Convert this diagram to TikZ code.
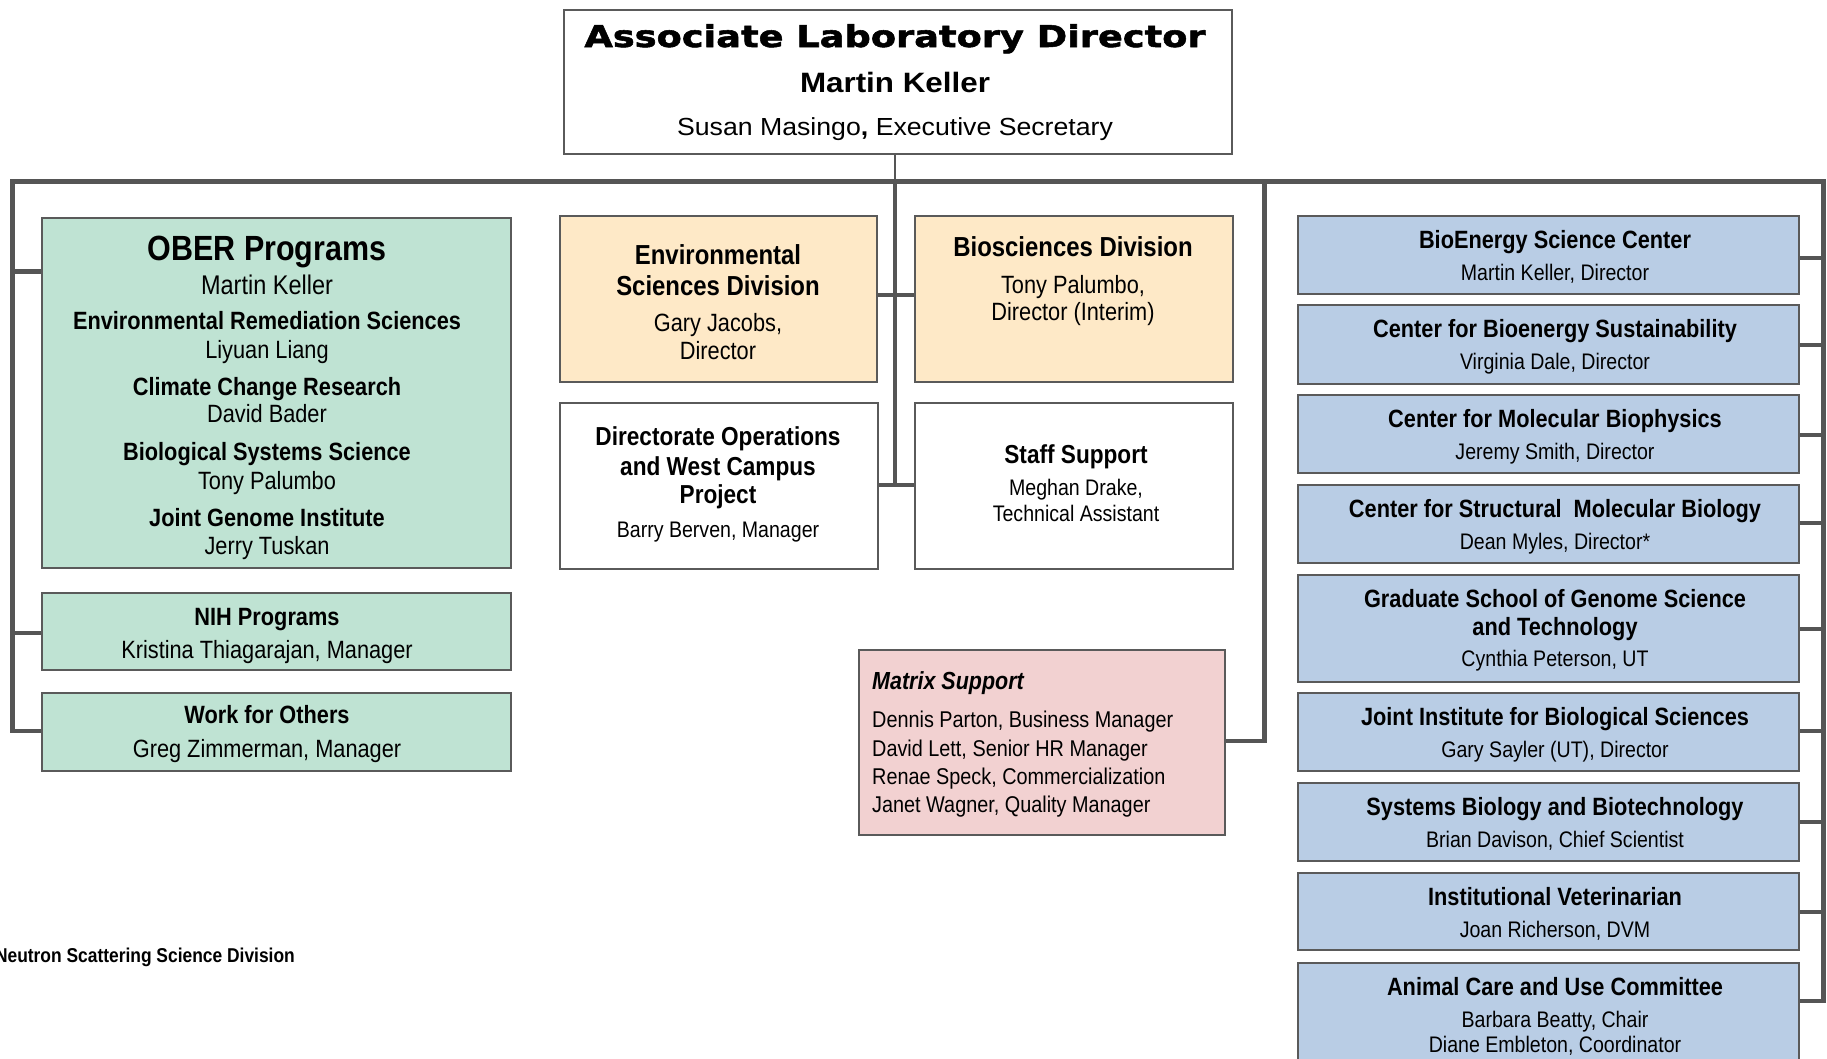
\documentclass[tikz,border=0pt]{standalone}
\usepackage{fontspec}
\setmainfont{Liberation Sans}
\newfontfamily\nar[FakeStretch=0.87]{Liberation Sans}
\newfontfamily\ttlf[FakeStretch=1.225,FakeBold=1.8]{DejaVu Sans}
\newfontfamily\mkf[FakeStretch=1.12]{Liberation Sans}
\newfontfamily\susf[FakeStretch=1.08]{Liberation Sans}
\newcommand\setsz[1]{\fontsize{#1pt}{#1pt}\selectfont}
\definecolor{grnf}{HTML}{BFE3D3}
\definecolor{orgf}{HTML}{FEE9C7}
\definecolor{bluf}{HTML}{B9CDE5}
\definecolor{pnkf}{HTML}{F2D1D1}
\definecolor{lnc}{HTML}{555555}
\definecolor{bdc}{HTML}{5A5A5A}
\begin{document}
\begin{tikzpicture}[x=1pt,y=-1pt,
  box/.style={draw=bdc, line width=2pt, inner sep=0pt, anchor=north west},
  conn/.style={draw=lnc, line width=4.7pt, line join=miter},
  lbl/.style={inner sep=0pt, anchor=base, text=black},
  hd/.style={lbl, font=\nar\bfseries\setsz{25}},
  dv/.style={lbl, font=\nar\bfseries\setsz{27.5}},
  nmg/.style={lbl, font=\nar\setsz{25}},
  nm/.style={lbl, font=\nar\setsz{22.5}},
  ml/.style={lbl, anchor=base west, font=\nar\setsz{22.8}},
]
\useasboundingbox (0,0) rectangle (1827,1058);
\fill[white] (0,0) rectangle (1827,1058);

% ---------- boxes ----------
\node[box, fill=white, minimum width=668pt, minimum height=144pt] (ald) at (563,9) {};

\node[box, fill=grnf, minimum width=469pt, minimum height=350pt] (ober) at (41,217) {};
\node[box, fill=grnf, minimum width=469pt, minimum height=77pt] (nih) at (41,592) {};
\node[box, fill=grnf, minimum width=469pt, minimum height=78pt] (wfo) at (41,692) {};

\node[box, fill=orgf, minimum width=317pt, minimum height=166pt] (esd) at (559,215) {};
\node[box, fill=orgf, minimum width=318pt, minimum height=166pt] (bsd) at (914,215) {};
\node[box, fill=white, minimum width=318pt, minimum height=166pt] (dop) at (559,402) {};
\node[box, fill=white, minimum width=318pt, minimum height=166pt] (stf) at (914,402) {};

\node[box, fill=pnkf, minimum width=366pt, minimum height=185pt] (mtx) at (858,649) {};

\node[box, fill=bluf, minimum width=501pt, minimum height=78pt] (bes) at (1297,215) {};
\node[box, fill=bluf, minimum width=501pt, minimum height=79pt] (cbs) at (1297,304) {};
\node[box, fill=bluf, minimum width=501pt, minimum height=78pt] (cmb) at (1297,394) {};
\node[box, fill=bluf, minimum width=501pt, minimum height=78pt] (csm) at (1297,484) {};
\node[box, fill=bluf, minimum width=501pt, minimum height=107pt] (gsg) at (1297,574) {};
\node[box, fill=bluf, minimum width=501pt, minimum height=78pt] (jib) at (1297,692) {};
\node[box, fill=bluf, minimum width=501pt, minimum height=78pt] (sbb) at (1297,782) {};
\node[box, fill=bluf, minimum width=501pt, minimum height=77pt] (ivt) at (1297,872) {};
\node[box, fill=bluf, minimum width=501pt, minimum height=130pt] (acu) at (1297,962) {};

% ---------- bus coordinates ----------
\coordinate (busTop) at (895,181.5);
\coordinate (busL) at (12.5,181.5);
\coordinate (busR) at (1823.5,181.5);
\coordinate (lob) at (12.5,271.5);
\coordinate (lnih) at (12.5,633);
\coordinate (lwfo) at (12.5,731);
\coordinate (cesd) at (895,295);
\coordinate (cbot) at (895,485);
\coordinate (mbus) at (1264.5,181.5);
\coordinate (mj) at (1264.5,741);
\coordinate (r1) at (1823.5,258);
\coordinate (r2) at (1823.5,345);
\coordinate (r3) at (1823.5,435);
\coordinate (r4) at (1823.5,523);
\coordinate (r5) at (1823.5,629);
\coordinate (r6) at (1823.5,731);
\coordinate (r7) at (1823.5,822);
\coordinate (r8) at (1823.5,912);
\coordinate (r9) at (1823.5,1001);

% ---------- connectors ----------
\draw[draw=lnc, line width=2.7pt] (ald.south -| busTop) -- (busTop);
\draw[conn] (lwfo -| wfo.west) -- (lwfo) -- (busL) -- (busR) -- (r9) -- (r9 -| acu.east);
\draw[conn] (lob) -- (lob -| ober.west);
\draw[conn] (lnih) -- (lnih -| nih.west);
\draw[conn] (busTop) -- (cbot);
\draw[conn] (esd.east |- cesd) -- (bsd.west |- cesd);
\draw[conn] (dop.east |- cbot) -- (stf.west |- cbot);
\draw[conn] (mtx.east |- mj) -- (mj) -- (mbus);
\draw[conn] (bes.east |- r1) -- (r1);
\draw[conn] (cbs.east |- r2) -- (r2);
\draw[conn] (cmb.east |- r3) -- (r3);
\draw[conn] (csm.east |- r4) -- (r4);
\draw[conn] (gsg.east |- r5) -- (r5);
\draw[conn] (jib.east |- r6) -- (r6);
\draw[conn] (sbb.east |- r7) -- (r7);
\draw[conn] (ivt.east |- r8) -- (r8);

% ---------- texts: top ----------
\node[lbl, font=\ttlf\bfseries\setsz{30}] (aldt) at (895,47) {Associate Laboratory Director};
\node[lbl, font=\mkf\bfseries\setsz{28}] (aldn) at (895,92) {Martin Keller};
\node[lbl, font=\susf\setsz{24.7}] (alds) at (895,135) {Susan Masingo{\bfseries,} Executive Secretary};

% ---------- green ----------
\node[lbl, font=\nar\bfseries\setsz{35}] (obt) at (267,260) {OBER Programs};
\node[lbl, font=\nar\setsz{27}] (ob1) at (267,294) {Martin Keller};
\node[hd] (ob2) at (267,329) {Environmental Remediation Sciences};
\node[nmg] (ob3) at (267,358) {Liyuan Liang};
\node[hd] (ob4) at (267,395) {Climate Change Research};
\node[nmg] (ob5) at (267,422) {David Bader};
\node[hd] (ob6) at (267,460) {Biological Systems Science};
\node[nmg] (ob7) at (267,489) {Tony Palumbo};
\node[hd] (ob8) at (267,526) {Joint Genome Institute};
\node[nmg] (ob9) at (267,554) {Jerry Tuskan};

\node[hd] (niht) at (267,625) {NIH Programs};
\node[nmg] (nihn) at (267,658) {Kristina Thiagarajan, Manager};
\node[hd] (wfot) at (267,723) {Work for Others};
\node[nmg] (wfon) at (267,757) {Greg Zimmerman, Manager};

% ---------- divisions ----------
\node[dv] (esd1) at (718,264) {Environmental};
\node[dv] (esd2) at (718,295) {Sciences Division};
\node[nmg] (esd3) at (718,331) {Gary Jacobs,};
\node[nmg] (esd4) at (718,359) {Director};

\node[dv] (bsd1) at (1073,256) {Biosciences Division};
\node[nmg] (bsd2) at (1073,293) {Tony Palumbo,};
\node[nmg] (bsd3) at (1073,320) {Director (Interim)};

\node[lbl, font=\nar\bfseries\setsz{26}] (dop1) at (718,445) {Directorate Operations};
\node[lbl, font=\nar\bfseries\setsz{26}] (dop2) at (718,475) {and West Campus};
\node[lbl, font=\nar\bfseries\setsz{26}] (dop3) at (718,503) {Project};
\node[nm] (dop4) at (718,537) {Barry Berven, Manager};

\node[lbl, font=\nar\bfseries\setsz{26}] (stf1) at (1076,463) {Staff Support};
\node[nm] (stf2) at (1076,495) {Meghan Drake,};
\node[nm] (stf3) at (1076,521) {Technical Assistant};

% ---------- matrix ----------
\node[lbl, anchor=base west, font=\nar\bfseries\itshape\setsz{24.7}] (mtx0) at (872,689) {Matrix Support};
\node[ml] (mtx1) at (872,727) {Dennis Parton, Business Manager};
\node[ml] (mtx2) at (872,756) {David Lett, Senior HR Manager};
\node[ml] (mtx3) at (872,784) {Renae Speck, Commercialization};
\node[ml] (mtx4) at (872,812) {Janet Wagner, Quality Manager};

% ---------- blue ----------
\node[hd] (bes1) at (1555,248) {BioEnergy Science Center};
\node[nm] (bes2) at (1555,280) {Martin Keller, Director};
\node[hd] (cbs1) at (1555,337) {Center for Bioenergy Sustainability};
\node[nm] (cbs2) at (1555,369) {Virginia Dale, Director};
\node[hd] (cmb1) at (1555,427) {Center for Molecular Biophysics};
\node[nm] (cmb2) at (1555,459) {Jeremy Smith, Director};
\node[hd] (csm1) at (1555,517) {Center for Structural~ Molecular Biology};
\node[nm] (csm2) at (1555,549) {Dean Myles, Director*};
\node[hd] (gsg1) at (1555,607) {Graduate School of Genome Science};
\node[hd] (gsg2) at (1555,635) {and Technology};
\node[nm] (gsg3) at (1555,666) {Cynthia Peterson, UT};
\node[hd] (jib1) at (1555,725) {Joint Institute for Biological Sciences};
\node[nm] (jib2) at (1555,757) {Gary Sayler (UT), Director};
\node[hd] (sbb1) at (1555,815) {Systems Biology and Biotechnology};
\node[nm] (sbb2) at (1555,847) {Brian Davison, Chief Scientist};
\node[hd] (ivt1) at (1555,905) {Institutional Veterinarian};
\node[nm] (ivt2) at (1555,937) {Joan Richerson, DVM};
\node[hd] (acu1) at (1555,995) {Animal Care and Use Committee};
\node[nm] (acu2) at (1555,1027) {Barbara Beatty, Chair};
\node[nm] (acu3) at (1555,1052) {Diane Embleton, Coordinator};

% ---------- stray label ----------
\node[lbl, anchor=base east, font=\nar\bfseries\setsz{20}] (nssd) at (295,962) {Neutron Scattering Science Division};
\end{tikzpicture}
\end{document}
